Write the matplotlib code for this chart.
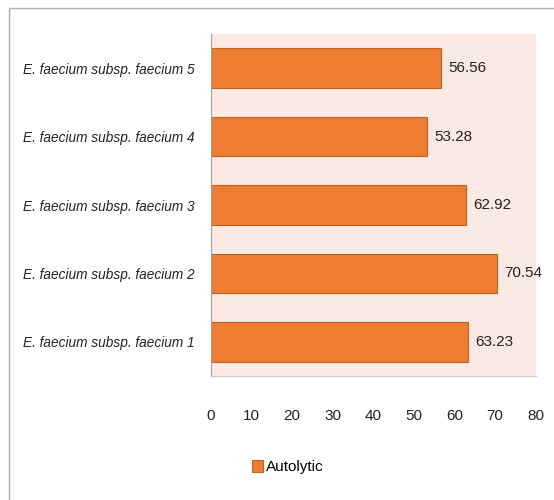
import matplotlib.pyplot as plt
from matplotlib.patches import Rectangle

strains = ['E. faecium subsp. faecium 1', 'E. faecium subsp. faecium 2',
           'E. faecium subsp. faecium 3', 'E. faecium subsp. faecium 4',
           'E. faecium subsp. faecium 5']
autolytic = [63.23, 70.54, 62.92, 53.28, 56.56]
xticks = [0, 10, 20, 30, 40, 50, 60, 70, 80]

plt.rcParams['font.family'] = ['Liberation Sans', 'DejaVu Sans']

fig = plt.figure(figsize=(5.54, 5.0), dpi=100)
ax = fig.add_axes([0.381, 0.248, 0.586, 0.684])
ax.set_facecolor('#fbe9e4')

bars = ax.barh(strains, autolytic, height=0.58, color='#ed7d31',
               edgecolor='#c9601f', linewidth=0.8, label='Autolytic')
for b, v in zip(bars, autolytic):
    ax.text(v + 1.8, b.get_y() + b.get_height() / 2, f'{v:.2f}',
            va='center', ha='left', fontsize=11, color='#222222')

ax.set_xlim(0, 80)
ax.set_ylim(-0.5, len(strains) - 0.5)
ax.set_xticks(xticks)
ax.tick_params(axis='x', length=0, labelsize=11, colors='#222222', pad=24)
ax.tick_params(axis='y', length=0, labelsize=9.8, colors='#222222', pad=12)
for lbl in ax.get_yticklabels():
    lbl.set_fontstyle('italic')
for s in ['top', 'right']:
    ax.spines[s].set_visible(False)
ax.spines['left'].set_color('#a0a0a0')
ax.spines['bottom'].set_color('#c8c8c8')

fig.legend(loc='center', bbox_to_anchor=(0.52, 0.066), frameon=False,
           fontsize=11, handlelength=0.7, handleheight=0.9, handletextpad=0.2)

fig.patches.append(Rectangle((9 / 554, -0.1), 1.1, 1 - 8 / 500 + 0.1,
                             transform=fig.transFigure, fill=False,
                             edgecolor='#b0b0b0', linewidth=1))

fig.savefig('out.png', dpi=100)
